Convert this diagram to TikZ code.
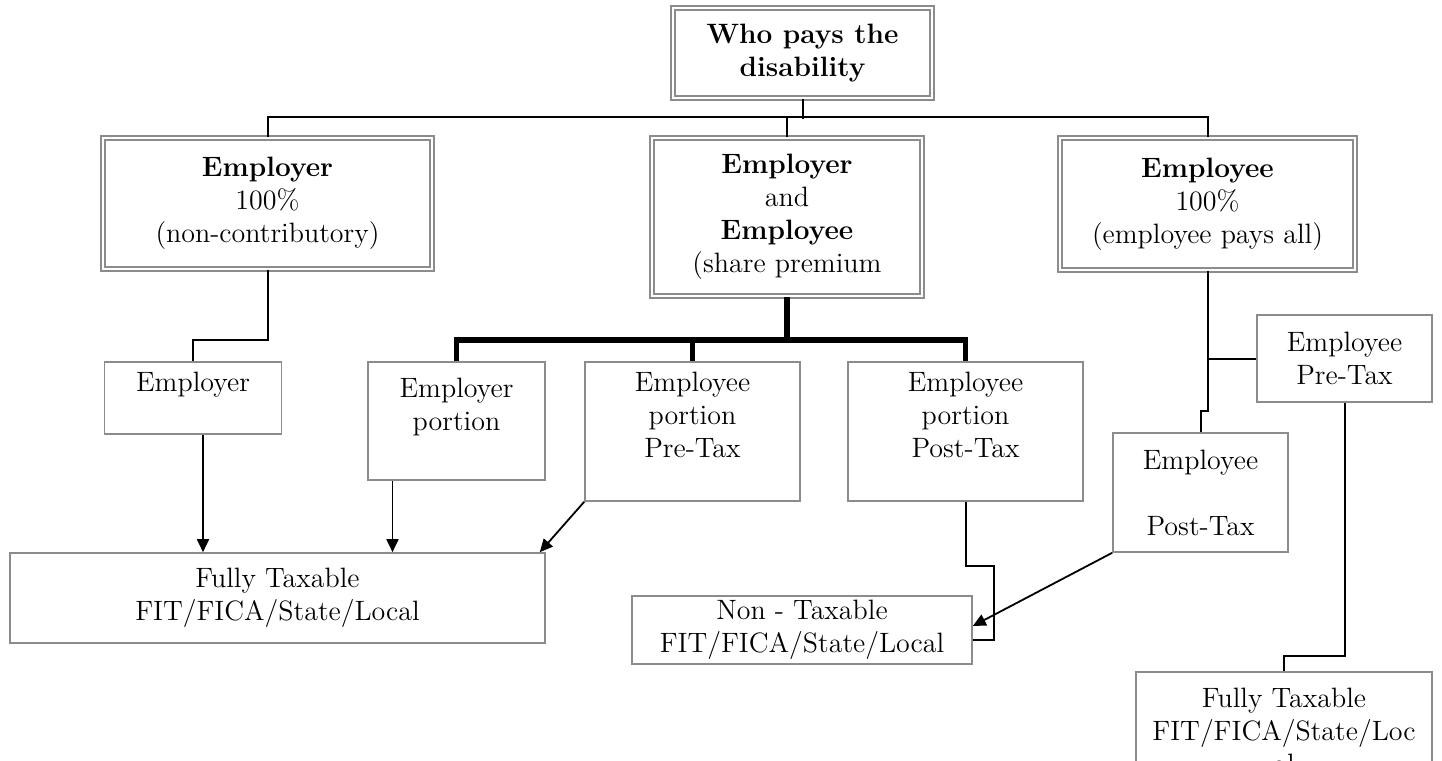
\documentclass[tikz,border=0pt]{standalone}
\usepackage{tikz}
\usepackage{xcolor}
\usetikzlibrary{arrows.meta}

\definecolor{boxgray}{gray}{0.55}

\tikzset{
  box/.style={draw=boxgray, line width=0.8pt, align=center, inner sep=0pt,
    font=\fontsize{14}{16.5}\selectfont},
  dbox/.style={box, line width=1pt, double=white, double distance=0.9pt},
  link/.style={line width=1pt},
  bus/.style={line width=2.6pt},
  arr/.style={line width=0.9pt, -{Triangle[length=6.5pt,width=6pt]}}
}

\begin{document}
\begin{tikzpicture}[x=0.5pt,y=-0.5pt]
    \useasboundingbox (0,0) rectangle (1442,761);
    \clip (0,0) rectangle (1442,761);

    \node[dbox, minimum width=129.5pt, minimum height=45pt] (who) at (802.5,53) {\textbf{Who pays the}\\\textbf{disability}};
    \node[dbox, minimum width=164.5pt, minimum height=65.5pt] (er100) at (267.5,203.5) {\textbf{Employer}\\100\%\\(non-contributory)};
    \node[dbox, minimum width=135pt, minimum height=79pt] (share) at (787,217) {\textbf{Employer}\\and\\\textbf{Employee}\\(share premium};
    \node[dbox, minimum width=147.5pt, minimum height=66pt] (ee100) at (1207.5,204) {\textbf{Employee}\\100\%\\(employee pays all)};

    \node[box, minimum width=88.5pt, minimum height=36pt] (er) at (193,398) {Employer\\~};
    \node[box, minimum width=88.5pt, minimum height=59pt] (erpart) at (456.5,421) {Employer\\portion\\~};
    \node[box, minimum width=107.5pt, minimum height=69.5pt] (eepre) at (692.5,431.5) {Employee\\portion\\Pre-Tax\\~};
    \node[box, minimum width=117.5pt, minimum height=69.5pt] (eepost) at (965.5,431.5) {Employee\\portion\\Post-Tax\\~};
    \node[box, minimum width=87.5pt, minimum height=43.5pt] (pre) at (1344.5,358.5) {Employee\\Pre-Tax};
    \node[box, minimum width=87.5pt, minimum height=59.5pt] (post) at (1200.5,492.5) {Employee\\~\\Post-Tax};

    \node[box, minimum width=267.5pt, minimum height=45pt] (fullA) at (277.5,598) {Fully Taxable\\FIT/FICA/State/Local};
    \node[box, minimum width=170pt, minimum height=34pt] (nontax) at (802,630) {Non - Taxable\\FIT/FICA/State/Local};
    \node[box, minimum width=148pt, minimum height=59pt] (fullB) at (1284,731) {Fully Taxable\\FIT/FICA/State/Loc\\al};

    \draw[link] (who.south) -- ++(0,20);
    \draw[link] (er100.north) -- ++(0,-20) -| (ee100.north);
    \draw[link] (share.north) -- ++(0,-20);

    \draw[link] (er100.south) -- ++(0,70) -| (er.north);
    \coordinate (hub) at (787,340);
    \draw[bus] (share.south) -- (hub);
    \draw[bus] (erpart.north) |- (hub) -| (eepost.north);
    \draw[bus] (hub -| eepre.north) -- (eepre.north);

    \draw[arr] ([xshift=5pt]er.south) -- ([xshift=5pt]er.south |- fullA.north);
    \draw[arr] ([xshift=-32pt]erpart.south) -- ([xshift=-32pt]erpart.south |- fullA.north);
    \draw[arr] (eepre.south west) -- ([xshift=-3pt]fullA.north east);
    \draw[link] (eepost.south) |- ++(28,64) |- ([yshift=-5pt]nontax.east);
    \draw[arr] (post.south west) -- ([yshift=2pt]nontax.east);

    \draw[link] (ee100.south) -- ++(0,140) -| (post.north);
    \draw[link] (ee100.south |- pre.west) -- (pre.west);
    \draw[link] (pre.south) -- ++(0,253) -| (fullB.north);
\end{tikzpicture}
\end{document}
